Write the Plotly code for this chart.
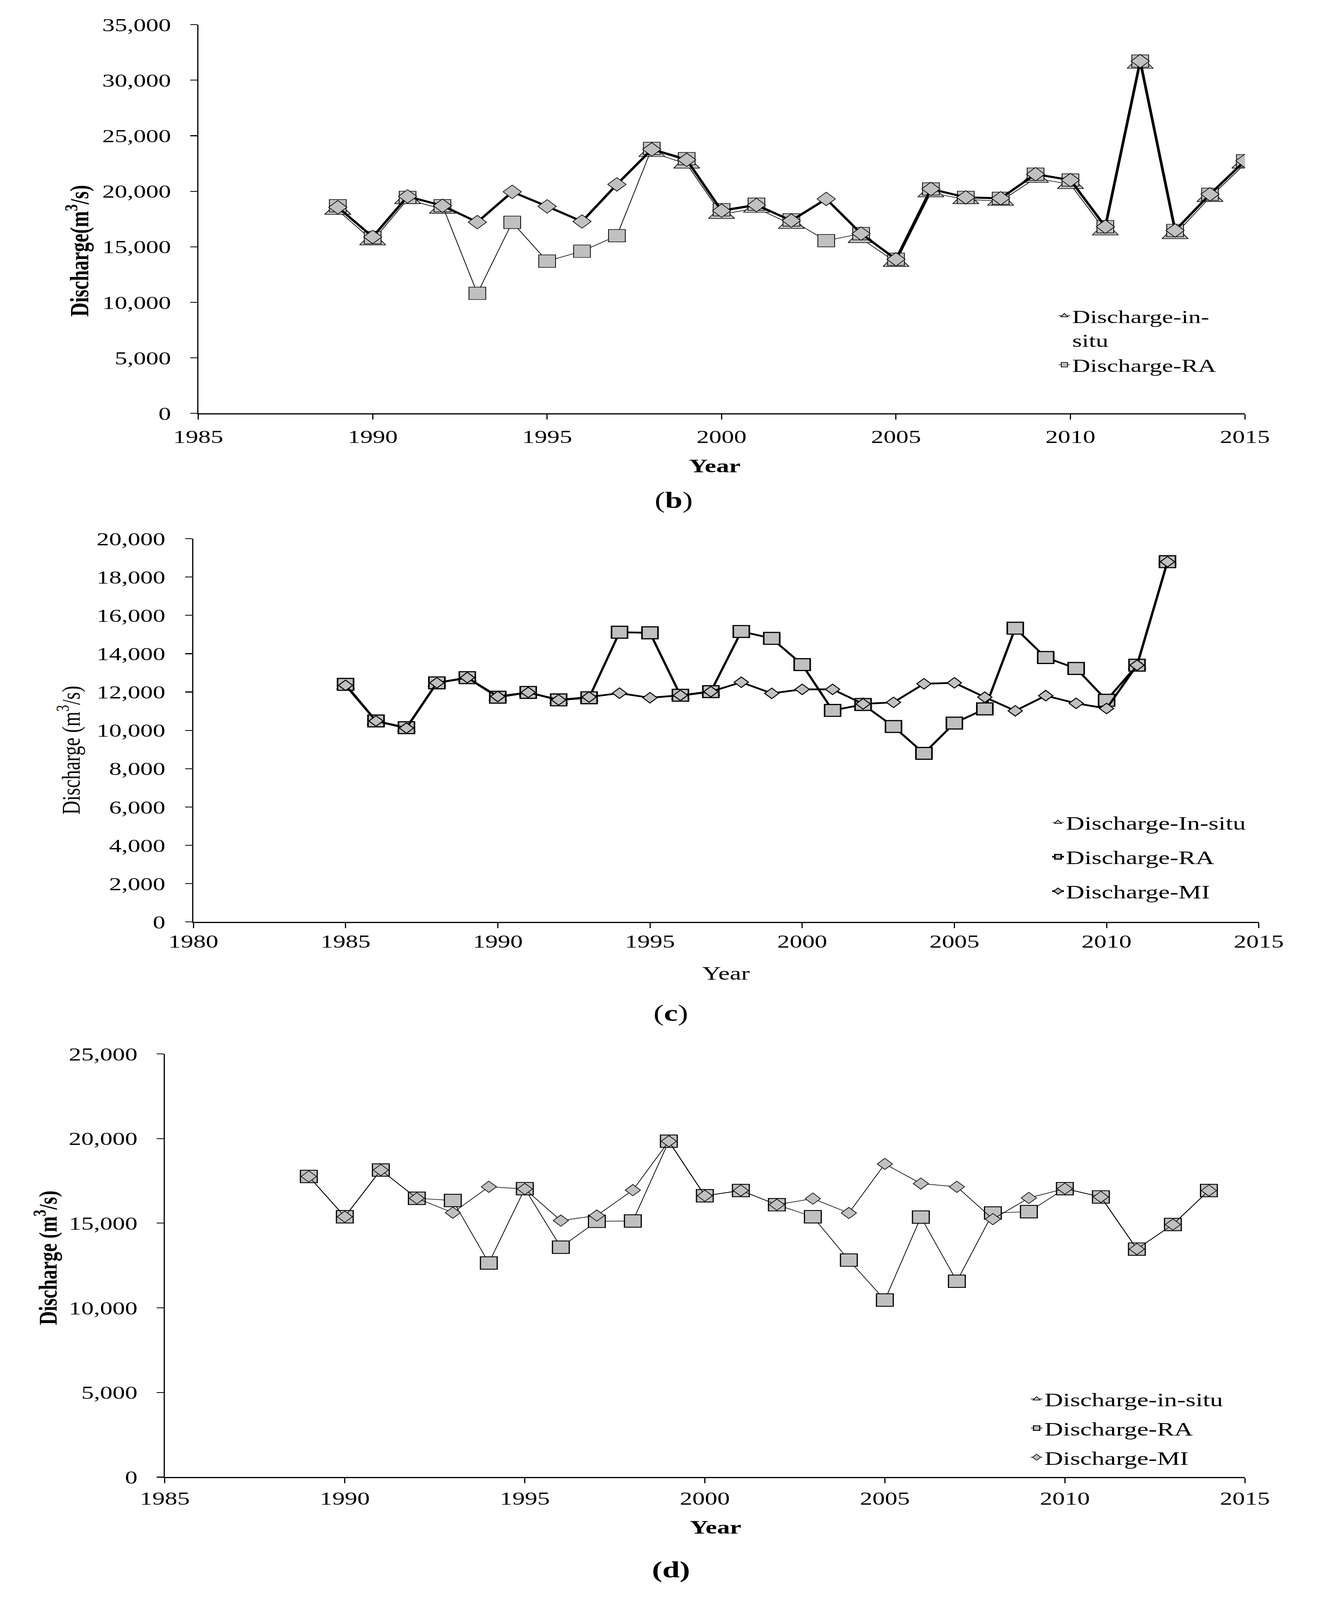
import plotly.graph_objects as go

# ---------------- data ----------------
years_b = list(range(1989, 2016))
b_insitu = [18300, 15550, 19260, 18390, None, None, None, None, None, 23500, 22460, 17920, 18480, 17030,
            None, 15750, 13600, 19870, 19260, 19120, 21180, 20620, 16440, 31440, 16110, 19450, 22460]
b_ra = [18700, 15830, 19450, 18700, 10810, 17200, 13710, 14600, 16000, 23860, 22940, 18340, 18840, 17420,
        15550, 16190, 13880, 20210, 19450, 19370, 21540, 21010, 16810, 31720, 16470, 19730, 22740]
b_mi = [18560, 15890, 19540, 18700, 17220, 19950, 18640, 17280, 20620, 23770, 22830, 18250, 18760, 17360,
        19310, 16190, 13880, 20210, 19450, 19370, 21540, 21010, 16810, 31720, 16470, 19730, 22740]

years_c = list(range(1985, 2013))
c_insitu = [12300, 10450, 10080, 12450, 12700, 11700, 11950, 11550, 11680, None, None, 11780, 11980, None,
            None, None, None, 11400, None, None, None, None, None, None, None, None, 13350, 18800]
c_ra = [12400, 10490, 10140, 12480, 12750, 11730, 11980, 11590, 11700, 15120, 15090, 11830, 12020, 15160,
        14800, 13430, 11040, 11350, 10200, 8800, 10380, 11120, 15330, 13800, 13230, 11570, 13400, 18800]
c_mi = [12350, 10490, 10120, 12480, 12750, 11770, 11980, 11590, 11740, 11940, 11700, 11830, 12020, 12510,
        11930, 12140, 12140, 11380, 11460, 12430, 12480, 11730, 11020, 11810, 11410, 11140, 13400, 18800]

years_d = list(range(1989, 2015))
d_insitu = [17760, 15380, 18140, 16470, None, None, 17030, None, None, None, 19840, 16620, 16930, 16090,
            None, None, None, None, None, None, None, 17040, 16550, 13470, 14920, 16930]
d_ra = [17760, 15380, 18140, 16470, 16340, 12650, 17040, 13580, 15110, 15130, 19840, 16620, 16930, 16090,
        15380, 12820, 10460, 15360, 11570, 15600, 15680, 17040, 16550, 13470, 14920, 16930]
d_mi = [17760, 15380, 18140, 16470, 15620, 17150, 17020, 15150, 15450, 16950, 19840, 16620, 16930, 16090,
        16450, 15600, 18500, 17340, 17150, 15240, 16490, 17040, 16550, 13470, 14920, 16930]

# ---------------- style ----------------
W, H = 3382, 5534
FONT = "Liberation Serif, Times New Roman, serif"
GRAY = "#c0c0c0"
BLACK = "#000000"


def px_x(p):
    return p / W


def px_y(p):
    return 1 - p / H


fig = go.Figure()


def add(x, y, name, sym, size, lw, mlw, xa, ya, legend, showlegend=True, group=None):
    fig.add_trace(go.Scatter(
        x=x, y=y, name=name, mode="lines+markers",
        line=dict(color=BLACK, width=lw),
        marker=dict(symbol=sym, size=size, color=GRAY, line=dict(color=BLACK, width=mlw)),
        xaxis=xa, yaxis=ya, legend=legend, showlegend=showlegend,
        legendgroup=group,
    ))


# panel (b)
add(years_b, b_insitu, "Discharge-in-<br>situ", "triangle-up", 58, 2, 2, "x", "y", "legend", True, "b1")
add(years_b, b_ra, "Discharge-RA", "square", 43, 2, 2, "x", "y", "legend", True, "b2")
add(years_b, b_mi, "Discharge-MI", "diamond", 36, 7, 2, "x", "y", "legend", False, "b3")

# panel (c)
add(years_c, c_insitu, "Discharge-In-situ", "triangle-up", 40, 2, 2, "x2", "y2", "legend2", True, "c1")
add(years_c, c_ra, "Discharge-RA", "square", 41, 6, 4, "x2", "y2", "legend2", True, "c2")
add(years_c, c_mi, "Discharge-MI", "diamond", 28, 6, 3, "x2", "y2", "legend2", True, "c3")

# panel (d)
add(years_d, d_insitu, "Discharge-in-situ", "triangle-up", 30, 2, 2, "x3", "y3", "legend3", True, "d1")
add(years_d, d_ra, "Discharge-RA", "square", 43, 2, 3, "x3", "y3", "legend3", True, "d2")
add(years_d, d_mi, "Discharge-MI", "diamond", 30, 2, 2, "x3", "y3", "legend3", True, "d3")


def axis_common(size, standoff):
    return dict(showline=True, linecolor=BLACK, linewidth=3, ticks="outside", ticklen=18,
                tickwidth=3, tickcolor=BLACK, showgrid=False, zeroline=False,
                tickfont=dict(family=FONT, size=size, color=BLACK), ticklabelstandoff=standoff)


fig.update_layout(
    width=W, height=H, margin=dict(l=0, r=0, t=0, b=0),
    paper_bgcolor="white", plot_bgcolor="white",
    font=dict(family=FONT, color=BLACK),
    xaxis=dict(domain=[px_x(461), px_x(3246)], range=[1985, 2015], tick0=1985, dtick=5,
               anchor="y", **axis_common(64, 4)),
    yaxis=dict(domain=[px_y(1413), px_y(51)], range=[0, 35000], dtick=5000, tickformat=",",
               anchor="x", **axis_common(64, 36)),
    xaxis2=dict(domain=[px_x(448), px_x(3283)], range=[1980, 2015], tick0=1980, dtick=5,
                anchor="y2", **axis_common(64, -9)),
    yaxis2=dict(domain=[px_y(3195), px_y(1852)], range=[0, 20000], dtick=2000, tickformat=",",
                anchor="x2", **axis_common(64, 38)),
    xaxis3=dict(domain=[px_x(372), px_x(3246)], range=[1985, 2015], tick0=1985, dtick=5,
                anchor="y3", **axis_common(64, -2)),
    yaxis3=dict(domain=[px_y(5140), px_y(3657)], range=[0, 25000], dtick=5000, tickformat=",",
                anchor="x3", **axis_common(64, 36)),
    legend=dict(x=px_x(2745), y=px_y(1022), xanchor="left", yanchor="top", bgcolor="rgba(0,0,0,0)",
                font=dict(family=FONT, size=64, color=BLACK), valign="top",
                traceorder="grouped", tracegroupgap=0, itemsizing="trace"),
    legend2=dict(x=px_x(2728), y=px_y(2796), xanchor="left", yanchor="top", bgcolor="rgba(0,0,0,0)",
                 font=dict(family=FONT, size=66, color=BLACK),
                 traceorder="grouped", tracegroupgap=30, itemsizing="trace"),
    legend3=dict(x=px_x(2671), y=px_y(4816), xanchor="left", yanchor="top", bgcolor="rgba(0,0,0,0)",
                 font=dict(family=FONT, size=66, color=BLACK),
                 traceorder="grouped", tracegroupgap=12, itemsizing="trace"),
    showlegend=True,
)


def ann(text, x, y, size, angle=0):
    fig.add_annotation(text=text, x=px_x(x), y=px_y(y), xref="paper", yref="paper",
                       showarrow=False, textangle=angle, xanchor="center", yanchor="middle",
                       font=dict(family=FONT, size=size, color=BLACK))


ann("<b>Year</b>", 1835, 1596, 66)
ann("<b>Discharge(m<sup>3</sup>/s)</b>", 139, 843, 67, -90)
ann("(<b>b</b>)", 1726, 1717, 80)

ann("Year", 1866, 3375, 66)
ann("Discharge (m<sup>3</sup>/s)", 117, 2593, 66, -90)
ann("(<b>c</b>)", 1719, 3514, 80)

ann("<b>Year</b>", 1838, 5316, 66)
ann("<b>Discharge (m<sup>3</sup>/s)</b>", 56, 4371, 66, -90)
ann("<b>(d)</b>", 1719, 5464, 80)

# Remove page margins and fit the fixed-size figure to the actual viewport.
post = """
(function(){
  var gd = document.getElementById('{plot_id}');
  document.documentElement.style.margin = '0';
  document.documentElement.style.padding = '0';
  document.body.style.margin = '0';
  document.body.style.padding = '0';
  document.body.style.overflow = 'hidden';
  var wrap = gd.parentElement;
  var vw = window.innerWidth, vh = window.innerHeight;
  var sx = vw / 3382, sy = vh / 5534;
  if (Math.abs(sx - 1) > 0.002 || Math.abs(sy - 1) > 0.002) {
    wrap.style.transformOrigin = '0 0';
    wrap.style.transform = 'scale(' + sx + ',' + sy + ')';
  }
})();
"""

fig.write_html("out.html", post_script=post, config={"displayModeBar": False})
